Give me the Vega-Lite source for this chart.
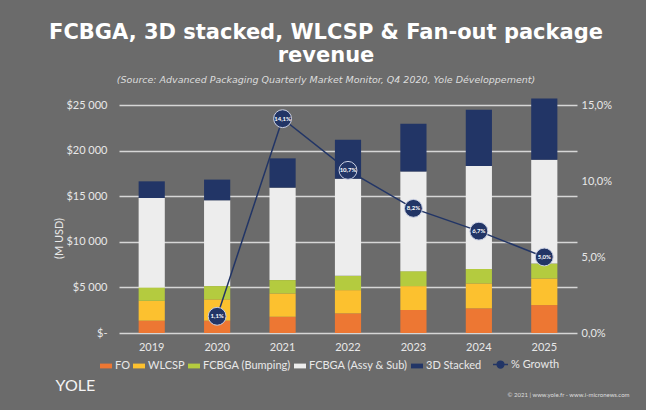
{
  "$schema": "https://vega.github.io/schema/vega-lite/v6.json",
  "autosize": {"type": "none"},
  "width": 458,
  "height": 228,
  "padding": {"left": 119, "top": 105, "right": 69, "bottom": 77},
  "background": "#6b6b6b",
  "title": {
    "text": ["FCBGA, 3D stacked, WLCSP & Fan-out package", "revenue"],
    "subtitle": "(Source: Advanced Packaging Quarterly Market Monitor, Q4 2020, Yole Développement)",
    "anchor": "middle",
    "dx": -22,
    "offset": 14,
    "font": "DejaVu Sans",
    "fontSize": 21,
    "fontWeight": "bold",
    "color": "#ffffff",
    "lineHeight": 23,
    "subtitleFont": "DejaVu Sans",
    "subtitleFontSize": 9.5,
    "subtitleFontStyle": "italic",
    "subtitleColor": "#dddddd",
    "subtitlePadding": 9
  },
  "datasets": {
    "rev": [
      {"year": "2019", "segment": "FO", "k": 1, "value": 1350},
      {"year": "2019", "segment": "WLCSP", "k": 2, "value": 2180},
      {"year": "2019", "segment": "FCBGA (Bumping)", "k": 3, "value": 1470},
      {"year": "2019", "segment": "FCBGA (Assy & Sub)", "k": 4, "value": 9800},
      {"year": "2019", "segment": "3D Stacked", "k": 5, "value": 1830},
      {"year": "2020", "segment": "FO", "k": 1, "value": 1350},
      {"year": "2020", "segment": "WLCSP", "k": 2, "value": 2340},
      {"year": "2020", "segment": "FCBGA (Bumping)", "k": 3, "value": 1450},
      {"year": "2020", "segment": "FCBGA (Assy & Sub)", "k": 4, "value": 9410},
      {"year": "2020", "segment": "3D Stacked", "k": 5, "value": 2270},
      {"year": "2021", "segment": "FO", "k": 1, "value": 1780},
      {"year": "2021", "segment": "WLCSP", "k": 2, "value": 2560},
      {"year": "2021", "segment": "FCBGA (Bumping)", "k": 3, "value": 1460},
      {"year": "2021", "segment": "FCBGA (Assy & Sub)", "k": 4, "value": 10140},
      {"year": "2021", "segment": "3D Stacked", "k": 5, "value": 3210},
      {"year": "2022", "segment": "FO", "k": 1, "value": 2150},
      {"year": "2022", "segment": "WLCSP", "k": 2, "value": 2550},
      {"year": "2022", "segment": "FCBGA (Bumping)", "k": 3, "value": 1570},
      {"year": "2022", "segment": "FCBGA (Assy & Sub)", "k": 4, "value": 10650},
      {"year": "2022", "segment": "3D Stacked", "k": 5, "value": 4280},
      {"year": "2023", "segment": "FO", "k": 1, "value": 2520},
      {"year": "2023", "segment": "WLCSP", "k": 2, "value": 2620},
      {"year": "2023", "segment": "FCBGA (Bumping)", "k": 3, "value": 1640},
      {"year": "2023", "segment": "FCBGA (Assy & Sub)", "k": 4, "value": 10940},
      {"year": "2023", "segment": "3D Stacked", "k": 5, "value": 5220},
      {"year": "2024", "segment": "FO", "k": 1, "value": 2700},
      {"year": "2024", "segment": "WLCSP", "k": 2, "value": 2740},
      {"year": "2024", "segment": "FCBGA (Bumping)", "k": 3, "value": 1590},
      {"year": "2024", "segment": "FCBGA (Assy & Sub)", "k": 4, "value": 11270},
      {"year": "2024", "segment": "3D Stacked", "k": 5, "value": 6180},
      {"year": "2025", "segment": "FO", "k": 1, "value": 3060},
      {"year": "2025", "segment": "WLCSP", "k": 2, "value": 2920},
      {"year": "2025", "segment": "FCBGA (Bumping)", "k": 3, "value": 1640},
      {"year": "2025", "segment": "FCBGA (Assy & Sub)", "k": 4, "value": 11380},
      {"year": "2025", "segment": "3D Stacked", "k": 5, "value": 6700}
    ],
    "growth": [
      {"year": "2020", "growth": 1.1, "label": "1,1%"},
      {"year": "2021", "growth": 14.1, "label": "14,1%"},
      {"year": "2022", "growth": 10.7, "label": "10,7%"},
      {"year": "2023", "growth": 8.2, "label": "8,2%"},
      {"year": "2024", "growth": 6.7, "label": "6,7%"},
      {"year": "2025", "growth": 5.0, "label": "5,0%"}
    ]
  },
  "encoding": {
    "x": {
      "field": "year",
      "type": "nominal",
      "sort": ["2019", "2020", "2021", "2022", "2023", "2024", "2025"],
      "scale": {"domain": ["2019", "2020", "2021", "2022", "2023", "2024", "2025"], "paddingInner": 0.6, "paddingOuter": 0.3},
      "axis": {
        "title": "© 2021 | www.yole.fr - www.i-micronews.com",
        "titleX": 510,
        "titleY": 61,
        "titleAlign": "right",
        "titleBaseline": "middle",
        "titleFont": "Lato",
        "titleFontSize": 6,
        "titleFontWeight": "normal",
        "titleColor": "#dddddd",
        "labelAngle": 0,
        "labelFont": "Lato",
        "labelFontSize": 11,
        "labelColor": "#e8e8e8",
        "labelPadding": 8,
        "domain": false,
        "ticks": false,
        "grid": false
      }
    }
  },
  "layer": [
    {
      "data": {"name": "rev"},
      "mark": {"type": "bar"},
      "encoding": {
        "y": {
          "field": "value",
          "type": "quantitative",
          "stack": "zero",
          "scale": {"domain": [0, 25000], "nice": false},
          "axis": {
            "title": "(M USD)",
            "titleX": -60,
            "titleY": 133,
            "titleAngle": -90,
            "titleAlign": "center",
            "titleBaseline": "middle",
            "titleFont": "Lato",
            "titleFontSize": 11,
            "titleFontWeight": "normal",
            "titleColor": "#e8e8e8",
            "values": [0, 5000, 10000, 15000, 20000, 25000],
            "labelExpr": "datum.value == 0 ? '$-' : '$' + replace(format(datum.value, ','), ',', ' ')",
            "labelFont": "Lato",
            "labelFontSize": 11,
            "labelColor": "#e8e8e8",
            "labelPadding": 12,
            "domain": false,
            "ticks": false,
            "grid": true,
            "gridColor": "#d6d6d6",
            "gridWidth": 1.5
          }
        },
        "color": {
          "field": "segment",
          "type": "nominal",
          "scale": {
            "domain": ["FO", "WLCSP", "FCBGA (Bumping)", "FCBGA (Assy & Sub)", "3D Stacked"],
            "range": ["#ed7733", "#fcc12f", "#b4cb3f", "#ededed", "#223566"]
          },
          "legend": {
            "title": null,
            "orient": "none",
            "direction": "horizontal",
            "legendX": -19,
            "legendY": 255,
            "symbolType": "M-1,-0.4H1V0.4H-1Z",
            "symbolSize": 144,
            "symbolStrokeWidth": 0,
            "labelFont": "Lato",
            "labelFontSize": 11,
            "labelColor": "#e8e8e8",
            "labelOffset": 3,
            "columnPadding": 3,
            "padding": 0
          }
        },
        "order": {"field": "k", "type": "quantitative"}
      }
    },
    {
      "data": {"name": "growth"},
      "encoding": {
        "y": {
          "field": "growth",
          "type": "quantitative",
          "scale": {"domain": [0, 15], "nice": false},
          "axis": {
            "orient": "right",
            "title": "YOLE",
            "titleAngle": 0,
            "titleX": -522,
            "titleY": 280,
            "titleAlign": "left",
            "titleBaseline": "middle",
            "titleFont": "Lato",
            "titleFontSize": 16,
            "titleFontWeight": "normal",
            "titleColor": "#f4f4f4",
            "values": [0, 5, 10, 15],
            "labelExpr": "replace(format(datum.value, '.1f'), '.', ',') + '%'",
            "labelFont": "Lato",
            "labelFontSize": 11,
            "labelColor": "#e8e8e8",
            "labelPadding": 4,
            "domain": false,
            "ticks": false,
            "grid": false
          }
        }
      },
      "layer": [
        {
          "mark": {"type": "line", "strokeWidth": 1.5},
          "encoding": {
            "stroke": {
              "datum": "% Growth",
              "type": "nominal",
              "scale": {"range": ["#223566"]},
              "legend": {
                "title": null,
                "orient": "none",
                "legendX": 373,
                "legendY": 251,
                "symbolType": "M-1,0H1M-0.45,0a0.45,0.45 0 1,0 0.9,0a0.45,0.45 0 1,0 -0.9,0",
                "symbolSize": 225,
                "symbolFillColor": "#223566",
                "symbolStrokeWidth": 1.5,
                "labelFont": "Lato",
                "labelFontSize": 11,
                "labelColor": "#e8e8e8",
                "labelOffset": 2,
                "padding": 0
              }
            }
          }
        },
        {
          "mark": {"type": "point", "filled": true, "size": 320, "color": "#223566", "stroke": "#c9cfe2", "strokeWidth": 1, "opacity": 1},
          "encoding": {}
        },
        {
          "mark": {"type": "text", "font": "Lato", "fontSize": 6, "fontWeight": "bold", "color": "#ffffff", "baseline": "middle", "align": "center"},
          "encoding": {
            "text": {"field": "label"}
          }
        }
      ]
    }
  ],
  "resolve": {"scale": {"y": "independent"}},
  "config": {"view": {"stroke": null}}
}
